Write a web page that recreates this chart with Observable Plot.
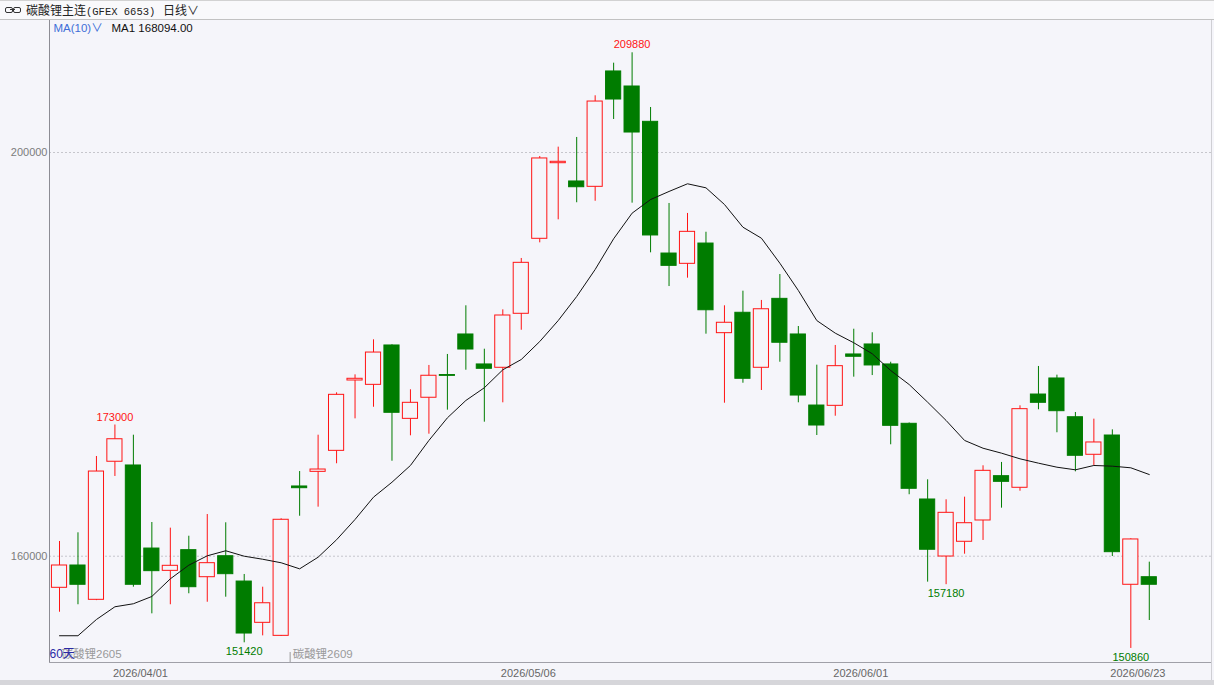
<!DOCTYPE html>
<html>
<head>
<meta charset="utf-8">
<script src="https://cdn.jsdelivr.net/npm/d3@7"></script>
<script src="https://cdn.jsdelivr.net/npm/@observablehq/plot@0.6"></script>
<style>
  html, body { margin: 0; padding: 0; background: #f5f5fa; }
  #page { width: 1214px; height: 685px; position: relative; overflow: hidden; background: #f5f5fa; }
  #toolbar { position: relative; height: 18px; border-top: 1px solid #d2d2d2; border-bottom: 1px solid #c2c2c2; background: #f9f9fb;
             font-family: "Noto Sans CJK SC", sans-serif; font-size: 12px; color: #222; }
  #toolbar .icon { position: absolute; left: 5px; top: 6px; width: 16px; height: 6px; }
  #toolbar .icon i { position: absolute; top: 0; width: 6px; height: 4px; border: 1px solid #333; border-radius: 2px; }
  #toolbar .icon i:first-child { left: 0; } #toolbar .icon i:last-child { left: 8px; }
  #toolbar .icon b { position: absolute; left: 5px; top: 2px; width: 5px; height: 1px; background: #333; }
  #toolbar .t1 { position: absolute; left: 26px; top: 0px; line-height: 18px; }
  #toolbar .mono { font-family: "Liberation Mono", "DejaVu Sans Mono", monospace; font-size: 10.5px; }
  #toolbar .t2 { position: absolute; left: 163px; top: 0px; line-height: 18px; }
  #chart { height: 660px; position: relative; }
  #rightline { position: absolute; left: 1211px; top: 20px; width: 1px; height: 660px; background: #cfcfd4; }
  #bottom { height: 5px; background: #d6d6da; }
</style>
</head>
<body>
<div id="page">
  <div id="toolbar">
    <span class="icon"><i></i><b></b><i></i></span>
    <span class="t1">碳酸锂主连<span class="mono">(GFEX 6653)</span></span>
    <span class="t2">日线∨</span>
  </div>
  <div id="chart"></div>
  <div id="rightline"></div>
  <div id="bottom"></div>
</div>
<script>
// ---- data ----
const dates = ["2026/03/27","2026/03/30","2026/03/31","2026/04/01","2026/04/02","2026/04/03","2026/04/07","2026/04/08","2026/04/09","2026/04/10",
  "2026/04/13","2026/04/14","2026/04/15","2026/04/16","2026/04/17","2026/04/20","2026/04/21","2026/04/22","2026/04/23","2026/04/24",
  "2026/04/27","2026/04/28","2026/04/29","2026/04/30","2026/05/06","2026/05/07","2026/05/08","2026/05/11","2026/05/12","2026/05/13",
  "2026/05/14","2026/05/15","2026/05/18","2026/05/19","2026/05/20","2026/05/21","2026/05/22","2026/05/25","2026/05/26","2026/05/27",
  "2026/05/28","2026/05/29","2026/06/01","2026/06/02","2026/06/03","2026/06/04","2026/06/05","2026/06/08","2026/06/09","2026/06/10",
  "2026/06/11","2026/06/12","2026/06/15","2026/06/16","2026/06/17","2026/06/18","2026/06/22","2026/06/23","2026/06/24","2026/06/25"];

const open = [156870,159080,155680,169360,168990,160760,158550,160600,157920,160000,
  157490,153400,152110,166910,168360,170440,177410,176980,180880,173610,
  175700,177950,181970,179000,178670,184020,191450,198940,197130,196600,
  208030,206540,203040,189990,188970,190980,182100,184120,178670,185500,
  181970,174930,174900,179990,180980,179000,173120,165620,159970,161430,
  163540,167930,166780,176020,177610,173770,170050,171960,157170,157920];

const high = [161460,162320,169880,173000,171990,163340,162780,161980,164130,163310,
  158190,156930,163710,168390,171990,176190,177970,181440,180950,176490,
  178900,179990,184810,180510,184410,189500,199600,200530,201490,205620,
  208850,209880,204460,194950,193960,192100,184810,186260,185340,187910,
  182760,178930,180880,182490,182140,179220,173200,167570,165590,165850,
  168960,169290,174900,178800,177940,174240,173580,172520,161730,159410];

const low = [154450,155190,155600,167900,156930,154290,155190,156280,155440,155940,
  151420,152110,152050,163960,164860,169160,173610,174760,169410,171930,
  172090,174470,178430,173280,175200,182390,191050,193330,195020,195170,
  203270,194980,190060,186720,187550,182000,175160,177140,176420,179220,
  175200,171960,173870,177740,177900,171040,166090,157430,157180,160200,
  161560,164760,166440,174510,172230,168360,168990,159970,150860,153630];

const close = [159080,157170,168390,171590,157170,158520,159050,156930,159310,158220,
  152340,155340,163610,166740,168590,175990,177580,180180,174210,175200,
  177880,177870,180480,178570,183850,189070,199410,199080,196560,205050,
  205250,201980,191780,188770,192140,184370,183130,177580,184470,181150,
  175920,172950,178830,179760,178900,172920,166680,160640,164300,163270,
  168460,167370,174570,175200,174370,169950,171270,160400,161660,157170];

const ma10 = [152120,152120,153730,154990,155290,156010,157760,159110,160040,160540,
  160000,159700,159350,158750,159900,161630,163640,165850,167330,168990,
  171470,173710,175430,176690,178470,179490,181270,183350,185730,188410,
  191450,193990,195340,196140,196900,196500,194850,192600,191510,189030,
  186330,183350,182100,181150,180060,178400,177010,175260,173450,171470,
  170700,170210,169650,169220,168820,168560,168990,168920,168760,168094];

const yTicks = [160000, 200000];
const xTickDates = ["2026/04/01", "2026/05/06", "2026/06/01", "2026/06/23"];
const peakIdx = [3, 31];
const troughIdx = [10, 48, 58];
const contractNames = ["碳酸锂2605", "碳酸锂2609"];
const contractStarts = ["2026/03/27", "2026/04/16"];
const yDomain = [149469, 213079];

// ---- build ----
const RED = "#ff1414", GREEN = "#007c00", BG = "#f5f5fa";
const candles = dates.map((d, i) => ({
  date: d, open: open[i], high: high[i], low: low[i], close: close[i], ma: ma10[i],
  up: close[i] >= open[i]
}));
const contracts = contractNames.map((n, i) => ({name: n, start: contractStarts[i]}));
const lastMA = ma10[ma10.length - 1];

const chart = Plot.plot({
  width: 1214, height: 660,
  marginLeft: 49, marginRight: 3, marginTop: 0, marginBottom: 18,
  style: {background: BG, fontFamily: "'Liberation Sans', Arial, 'Noto Sans CJK SC', sans-serif", fontSize: "11px", overflow: "visible"},
  x: {type: "band", domain: dates, paddingInner: 0.18, paddingOuter: 1.545, align: 0.0426, round: false, axis: null},
  y: {domain: yDomain, axis: null},
  color: {type: "identity"},
  marks: [
    Plot.gridY(yTicks, {stroke: "#c6c6cc", strokeOpacity: 1, strokeDasharray: "2,2"}),
    Plot.frame({anchor: "left", stroke: "#8c8c94"}),
    Plot.frame({anchor: "bottom", stroke: "#a0a0a8"}),
    Plot.axisY({ticks: yTicks, tickSize: 0, tickPadding: 2, color: "#7c7c7c", tickFormat: d => String(d), label: null}),
    Plot.axisX({ticks: xTickDates, tickSize: 0, tickPadding: 7, textAnchor: "start", dx: -2, color: "#666", label: null}),
    // wicks
    Plot.ruleX(candles, {x: "date", y1: "low", y2: "high", stroke: d => d.up ? RED : GREEN, strokeWidth: 1}),
    // bodies
    Plot.barY(candles, {x: "date", y1: "open", y2: "close",
      fill: d => d.up ? BG : GREEN, stroke: d => d.up ? RED : GREEN, strokeWidth: 1}),
    // MA(10)
    Plot.line(candles, {x: "date", y: "ma", stroke: "#111", strokeWidth: 1}),
    // extreme labels
    Plot.text(peakIdx.map(i => candles[i]), {x: "date", y: "high", text: d => String(d.high), dy: -8, fill: RED, fontSize: 11}),
    Plot.text(troughIdx.map(i => candles[i]), {x: "date", y: "low", text: d => String(d.low), dy: 9, fill: GREEN, fontSize: 11}),
    // MA legend
    Plot.text(["MA(10)∨"], {frameAnchor: "top-left", textAnchor: "start", lineAnchor: "middle", dx: 4, dy: 8, fill: "#3f6fd8", fontSize: 11.5}),
    Plot.text([`MA1 ${lastMA.toFixed(2)}`], {frameAnchor: "top-left", textAnchor: "start", lineAnchor: "middle", dx: 62, dy: 8, fill: "#111", fontSize: 11.5}),
    // contract labels
    Plot.text([contracts[0]], {x: "start", text: "name", frameAnchor: "bottom", textAnchor: "start", lineAnchor: "middle", dx: 2, dy: -8, fill: "#9a9a9a", fontSize: 11.5}),
    Plot.text([contracts[1]], {x: "start", text: "name", frameAnchor: "bottom", textAnchor: "start", lineAnchor: "middle", dx: -7, dy: -8, fill: "#9a9a9a", fontSize: 11.5}),
    Plot.ruleX([contracts[1].start], {dx: -9.5, insetTop: 632, stroke: "#9a9a9a"}),
    Plot.text([`${dates.length}天`], {frameAnchor: "bottom-left", textAnchor: "start", lineAnchor: "middle", dx: 0, dy: -8, fill: "#2a2aa6", fontSize: 12})
  ]
});
document.getElementById("chart").appendChild(chart);
</script>
</body>
</html>
